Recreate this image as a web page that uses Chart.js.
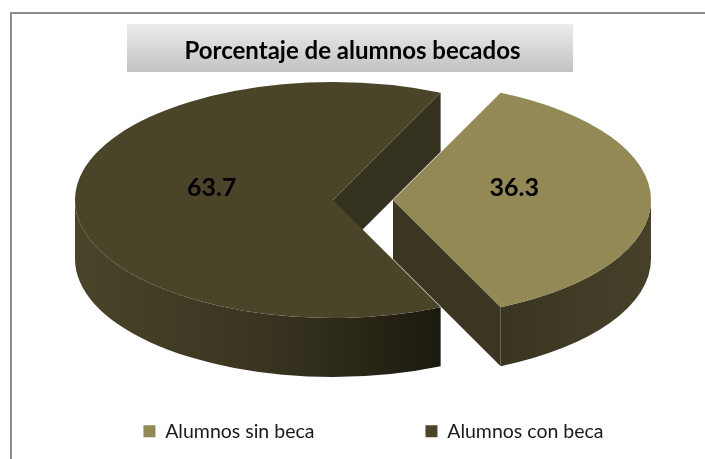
<!DOCTYPE html>
<html><head><meta charset="utf-8">
<script src="https://cdn.jsdelivr.net/npm/chart.js@4/dist/chart.umd.min.js"></script>
<style>html,body{margin:0;padding:0;background:#fff;overflow:hidden}</style>
</head><body>
<canvas id="c" width="705" height="459"></canvas>
<script>
// ---- data ----
const categories = ['Alumnos sin beca', 'Alumnos con beca'];
const values = [36.3, 63.7];
const valueLabels = ['36.3', '63.7'];
const titleText = 'Porcentaje de alumnos becados';

// ---- style ----
const topColors = ['#928955', '#4a4529'];
const SQUASH = 118 / 258;     // vertical squash of the pie disc
const DEPTH = 59;             // thickness of the pie
const EXPLODE = [40.5, 19.5]; // explosion distance per slice (px)
const LEGEND_SHIFT = 21;

const total = values.reduce((s, v) => s + v, 0);
const rotationDeg = 90 - (values[0] / total) * 180;

function frontRanges(s, e) {
  const out = [];
  for (let k = -1; k <= 1; k++) {
    const a = Math.max(s, 2 * Math.PI * k), b = Math.min(e, Math.PI + 2 * Math.PI * k);
    if (b > a) out.push([a, b]);
  }
  return out;
}

const frame = {
  id: 'frame',
  beforeDraw(chart) {
    const ctx = chart.ctx;
    ctx.save();
    ctx.fillStyle = '#fff';
    ctx.fillRect(0, 0, chart.width, chart.height);
    ctx.strokeStyle = '#8c8c8c';
    ctx.lineWidth = 2;
    ctx.beginPath();
    ctx.moveTo(11, chart.height); ctx.lineTo(11, 13); ctx.lineTo(chart.width, 13);
    ctx.stroke();
    const g = ctx.createLinearGradient(0, 24, 0, 72);
    g.addColorStop(0, '#ececec');
    g.addColorStop(1, '#c2c2c2');
    ctx.fillStyle = g;
    ctx.fillRect(127, 24, 446, 48);
    ctx.restore();
  },
  afterLayout(chart) {
    if (chart.legend) { chart.legend.left += LEGEND_SHIFT; chart.legend.right += LEGEND_SHIFT; }
  }
};

const pie3d = {
  id: 'pie3d',
  beforeDatasetsDraw(chart) {
    const ctx = chart.ctx;
    const arcs = chart.getDatasetMeta(0).data;
    const items = arcs.map((a, i) => {
      const p = a.getProps(['x', 'y', 'startAngle', 'endAngle', 'outerRadius']);
      const mid = (p.startAngle + p.endAngle) / 2;
      return { a, i, p, mid, r: p.outerRadius,
        cx: p.x + Math.cos(mid) * EXPLODE[i],
        cy: p.y + Math.sin(mid) * EXPLODE[i] * SQUASH };
    });
    const pt = (it, ang, dz) => [it.cx + Math.cos(ang) * it.r, it.cy + Math.sin(ang) * it.r * SQUASH + dz];
    const wallColors = ['#3b3621', '#35321f'];
    const radial = (it, ang, color) => {
      const t = pt(it, ang, 0), b = pt(it, ang, DEPTH);
      ctx.beginPath();
      ctx.moveTo(it.cx, it.cy); ctx.lineTo(t[0], t[1]); ctx.lineTo(b[0], b[1]); ctx.lineTo(it.cx, it.cy + DEPTH);
      ctx.closePath();
      ctx.fillStyle = color; ctx.fill();
    };
    ctx.save();
    items.forEach(it => {
      if (Math.cos(it.p.endAngle) > 0) radial(it, it.p.endAngle, wallColors[it.i]);
      if (Math.cos(it.p.startAngle) < 0) radial(it, it.p.startAngle, wallColors[it.i]);
    });
    items.forEach(it => {
      frontRanges(it.p.startAngle, it.p.endAngle).forEach(([a1, a2]) => {
        const x1 = it.cx + Math.cos(a2) * it.r, x2 = it.cx + Math.cos(a1) * it.r;
        const g = ctx.createLinearGradient(Math.min(x1, x2), 0, Math.max(x1, x2), 0);
        if (it.i === 1) {
          g.addColorStop(0, '#4a4429'); g.addColorStop(0.55, '#37331f'); g.addColorStop(1, '#1c1a0f');
        } else {
          g.addColorStop(0, '#3a3520'); g.addColorStop(1, '#47412a');
        }
        ctx.beginPath();
        ctx.ellipse(it.cx, it.cy, it.r, it.r * SQUASH, 0, a1, a2, false);
        ctx.ellipse(it.cx, it.cy + DEPTH, it.r, it.r * SQUASH, 0, a2, a1, true);
        ctx.closePath();
        ctx.fillStyle = g; ctx.fill();
      });
    });
    items.forEach(it => {
      ctx.save();
      ctx.translate(it.cx, it.cy);
      ctx.scale(1, SQUASH);
      ctx.translate(-it.p.x, -it.p.y);
      it.a.draw(ctx);
      ctx.restore();
    });
    ctx.fillStyle = '#000';
    ctx.font = 'bold 25px Lato';
    ctx.textAlign = 'center';
    ctx.textBaseline = 'middle';
    items.forEach(it => {
      const x = it.cx + Math.cos(it.mid) * it.r * 0.47;
      const y = it.cy + Math.sin(it.mid) * it.r * SQUASH * 0.47 - 12;
      ctx.fillText(valueLabels[it.i], x, y);
    });
    ctx.restore();
    return false;
  }
};

new Chart(document.getElementById('c'), {
  type: 'pie',
  data: {
    labels: categories,
    datasets: [{
      data: values,
      backgroundColor: topColors,
      borderWidth: 0
    }]
  },
  options: {
    responsive: false,
    animation: false,
    radius: 258,
    rotation: rotationDeg,
    layout: { padding: { left: 0, right: 0, top: 0, bottom: 8 } },
    plugins: {
      title: {
        display: true,
        text: titleText,
        color: '#000',
        font: { family: 'Lato', weight: 'bold', size: 24 },
        padding: { top: 36.6, bottom: 24.1 }
      },
      legend: {
        position: 'bottom',
        labels: {
          boxWidth: 12, boxHeight: 12, padding: 111,
          color: '#1a1a1a',
          font: { family: 'Lato', size: 19.5 }
        }
      },
      tooltip: { enabled: false }
    }
  },
  plugins: [frame, pie3d]
});
</script>
</body></html>
